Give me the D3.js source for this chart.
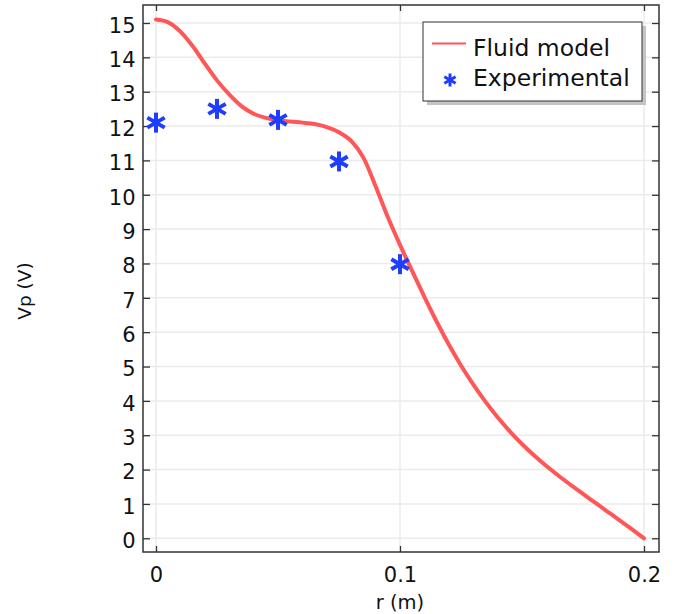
<!DOCTYPE html>
<html><head><meta charset="utf-8">
<script src="https://cdn.jsdelivr.net/npm/d3@7"></script>
<style>body{margin:0;background:#fff;} svg{display:block;font-family:"DejaVu Sans",sans-serif;}</style>
</head><body>
<svg id="c" width="678" height="614"></svg>
<script>
const fluidR = [0,0.005,0.01,0.015,0.02,0.025,0.03,0.035,0.04,0.045,0.05,0.055,0.06,0.065,0.07,0.075,0.08,0.085,0.09,0.095,0.1,0.105,0.11,0.115,0.12,0.125,0.13,0.135,0.14,0.145,0.15,0.155,0.16,0.165,0.17,0.175,0.18,0.185,0.19,0.195,0.2];
const fluidV = [15.1,15.02,14.75,14.33,13.82,13.33,12.92,12.58,12.36,12.24,12.17,12.13,12.1,12.06,11.97,11.82,11.57,11.08,10.25,9.35,8.54,7.78,7.03,6.31,5.64,5.03,4.48,3.98,3.525,3.115,2.745,2.41,2.105,1.822,1.552,1.29,1.035,0.78,0.525,0.265,0.0];
const expR = [0,0.025,0.05,0.075,0.1];
const expV = [12.1,12.5,12.18,10.97,7.98];
const xTicks = [0,0.1,0.2];
const xTickLabels = ["0","0.1","0.2"];
const yTicks = d3.range(0,16);
const seriesNames = ["Fluid model","Experimental"];

const svg = d3.select("#c");
const L=143, R=659, T=5, B=552;
const x = d3.scaleLinear().domain([0,0.2]).range([156,644]);
const y = d3.scaleLinear().domain([0,15]).range([538.3,23]);
const red="#ff5757", blue="#1f3dff", frame="#333";

// grid
svg.append("g").selectAll("line").data(yTicks).join("line")
  .attr("x1",L).attr("x2",R).attr("y1",d=>y(d)).attr("y2",d=>y(d))
  .attr("stroke","#ebebeb").attr("stroke-width",1.5);
svg.append("g").selectAll("line").data(xTicks).join("line")
  .attr("y1",T).attr("y2",B).attr("x1",d=>x(d)).attr("x2",d=>x(d))
  .attr("stroke","#ebebeb").attr("stroke-width",1.5);

// axes
const ax = (g,axis)=>{g.call(axis); g.select(".domain").remove(); g.selectAll(".tick line").attr("stroke",frame).attr("stroke-width",1.3); g.selectAll("text").attr("fill","#111").attr("font-size",21).attr("font-family","DejaVu Sans, sans-serif");};
svg.append("g").attr("transform",`translate(${L},0)`).call(g=>{ax(g,d3.axisLeft(y).tickValues(yTicks).tickSize(-7).tickPadding(7.5).tickFormat(d3.format("d"))); g.selectAll("text").attr("dy","0.44em");});
svg.append("g").attr("transform",`translate(${R},0)`).call(g=>ax(g,d3.axisRight(y).tickValues(yTicks).tickSize(-7).tickFormat("")));
svg.append("g").attr("transform",`translate(0,${B})`).call(g=>{ax(g,d3.axisBottom(x).tickValues(xTicks).tickSize(-6).tickFormat((d,i)=>xTickLabels[i])); g.selectAll("text").attr("y",29.5).attr("dy",0);});
svg.append("g").attr("transform",`translate(0,${T})`).call(g=>ax(g,d3.axisTop(x).tickValues(xTicks).tickSize(-6).tickFormat("")));
svg.append("rect").attr("x",L).attr("y",T).attr("width",R-L).attr("height",B-T)
  .attr("fill","none").attr("stroke",frame).attr("stroke-width",1.5);

// curve
const pts = fluidR.map((r,i)=>[r,fluidV[i]]);
svg.append("path").datum(pts)
  .attr("d",d3.line().x(d=>x(d[0])).y(d=>y(d[1])).curve(d3.curveMonotoneX))
  .attr("fill","none").attr("stroke",red).attr("stroke-width",4).attr("stroke-linecap","round");

// star marker
function star(g,cx,cy,r,w){
  const s=g.append("g").attr("transform",`translate(${cx},${cy})`);
  [90,30,-30].forEach(a=>{const t=a*Math.PI/180;
    s.append("line").attr("x1",-r*Math.cos(t)).attr("y1",-r*Math.sin(t))
      .attr("x2",r*Math.cos(t)).attr("y2",r*Math.sin(t))
      .attr("stroke",blue).attr("stroke-width",w).attr("stroke-linecap","butt");});
}
const mg=svg.append("g");
expR.forEach((r,i)=>star(mg,x(r),y(expV[i]),10,4));

// legend
svg.append("rect").attr("x",427).attr("y",26).attr("width",219).attr("height",79).attr("fill","#c4c4c4");
svg.append("rect").attr("x",423).attr("y",22).attr("width",219).attr("height",79).attr("fill","#fff").attr("stroke","#333").attr("stroke-width",1);
svg.append("line").attr("x1",432).attr("x2",466).attr("y1",43.5).attr("y2",43.5).attr("stroke",red).attr("stroke-width",2);
star(svg,450,80,6.5,3);
svg.append("text").attr("x",473).attr("y",56).attr("font-size",23.5).attr("fill","#111").text(seriesNames[0]);
svg.append("text").attr("x",473).attr("y",86).attr("font-size",23.5).attr("fill","#111").text(seriesNames[1]);

// axis labels
svg.append("text").attr("x",x(0.1)).attr("y",609).attr("text-anchor","middle").attr("font-size",19.5).attr("fill","#111").text("r (m)");
svg.append("text").attr("transform","translate(31,291) rotate(-90)").attr("text-anchor","middle").attr("font-size",18.5).attr("fill","#111").text("Vp (V)");
</script>
</body></html>
